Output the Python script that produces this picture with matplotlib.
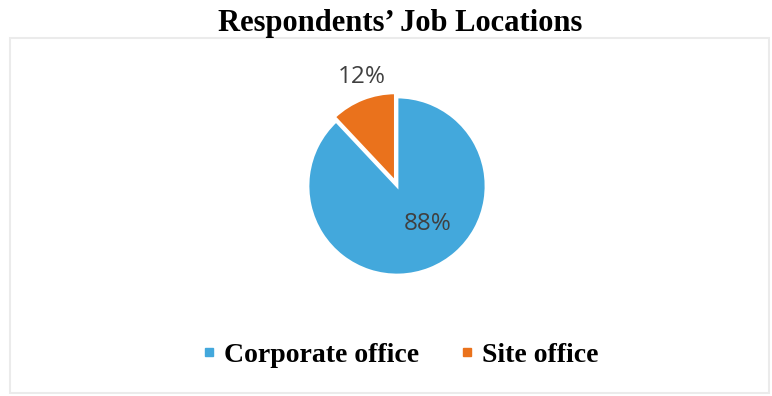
import matplotlib
matplotlib.use("Agg")
import matplotlib.pyplot as plt
from matplotlib.patches import Rectangle
from matplotlib.lines import Line2D

# job location split of respondents
locations = ["Corporate office", "Site office"]
shares = [88, 12]
pct_labels = ["88%", "12%"]
colors = ["#43A8DC", "#EA721C"]

W, H = 772, 396
fig = plt.figure(figsize=(W / 100, H / 100), dpi=100)
fig.patch.set_facecolor("white")

# light frame around the chart area
fig.patches.append(Rectangle((10 / W, 3 / H), 759 / W, 355 / H, transform=fig.transFigure,
                             fill=False, edgecolor="#EBEBEB", linewidth=1.5))

fig.text(0.518, 1 - 23 / H, "Respondents\u2019 Job Locations", ha="center", va="center",
         family="Liberation Serif", weight="bold", fontsize=22)

# pie centre and radius in pixels
cx, cy, r = 397, 186, 89
ax = fig.add_axes([(cx - r) / W, 1 - (cy + r) / H, 2 * r / W, 2 * r / H])
wedges, _ = ax.pie(shares, colors=colors, startangle=90, counterclock=False,
                   explode=[0, 0.05], wedgeprops=dict(edgecolor="white", linewidth=2))
ax.set_xlim(-1, 1)
ax.set_ylim(-1, 1)
ax.axis("off")

label_pos = [(0.35, -0.43), (-0.39, 1.22)]
for txt, (x, y) in zip(pct_labels, label_pos):
    ax.text(x, y, txt, ha="center", va="center", fontsize=17.5,
            family="Open Sans", color="#404040", clip_on=False)

handles = [Line2D([], [], marker="s", linestyle="none", markersize=6,
                  markerfacecolor=c, markeredgecolor=c) for c in colors]
fig.legend(handles, locations, loc="center", bbox_to_anchor=(0.516, 1 - 355 / H), ncol=2,
           frameon=False, handletextpad=0.15, columnspacing=1.3, handlelength=0.8,
           prop=dict(family="Liberation Serif", weight="bold", size=20))

fig.savefig("out.png", dpi=100, facecolor="white")
